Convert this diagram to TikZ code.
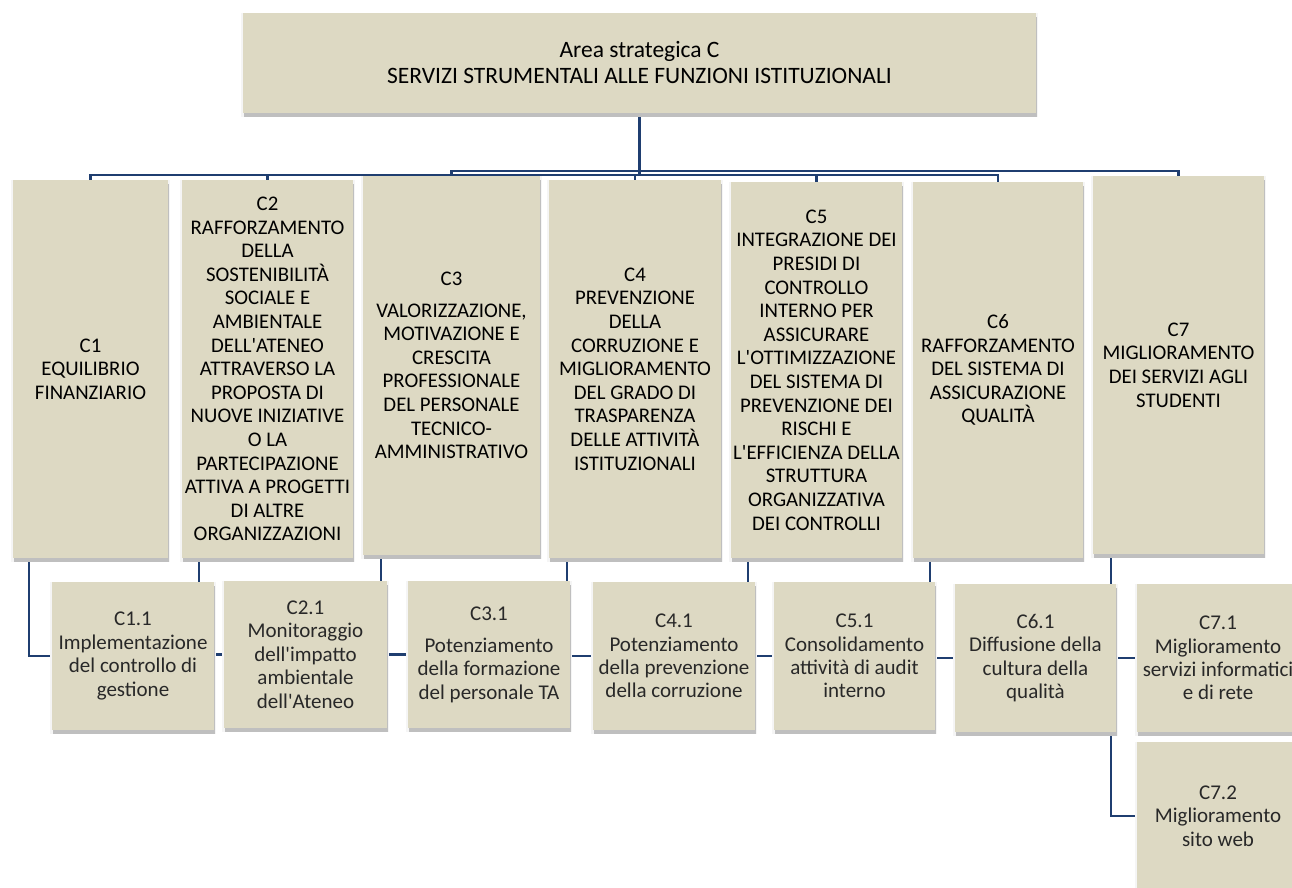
\documentclass[tikz,border=0pt]{standalone}
\usepackage{fontspec}
\setmainfont{Carlito}
\usetikzlibrary{shadows,backgrounds}
\definecolor{boxfill}{RGB}{221,217,195}
\definecolor{navy}{RGB}{31,62,112}
\definecolor{subtext}{RGB}{40,40,40}
\newcommand{\ap}{\textquotesingle}
\begin{document}
\begin{tikzpicture}[x=1pt,y=-1pt,
  boxbase/.style={fill=boxfill, inner sep=0pt, align=center, anchor=center,
    general shadow={fill=black!4, draw=black!4, line width=4pt, shadow yshift=-2pt},
    general shadow={fill=black!25, shadow yshift=-4pt, shadow xshift=0.5pt}},
  topbox/.style={boxbase, font=\fontsize{23.5}{26}\selectfont},
  lvone/.style={boxbase, font=\fontsize{20.8}{23.6}\selectfont},
  lvtwo/.style={boxbase, text=subtext, font=\fontsize{21}{23.4}\selectfont},
  conn/.style={draw=navy, line width=2.2pt}]
\useasboundingbox (0,0) rectangle (1292,888);

\node[topbox, minimum width=793pt, minimum height=100pt] (top) at (639.5,63)
  {Area strategica C\\SERVIZI STRUMENTALI ALLE FUNZIONI ISTITUZIONALI};

\node[lvone, minimum width=155pt, minimum height=378pt] (c1) at (90.5,369)
  {C1\\EQUILIBRIO\\FINANZIARIO};
\node[lvone, minimum width=171pt, minimum height=378pt] (c2) at (267.5,369)
  {C2\\RAFFORZAMENTO\\DELLA\\SOSTENIBILITÀ\\SOCIALE E\\AMBIENTALE\\DELL\ap ATENEO\\ATTRAVERSO LA\\PROPOSTA DI\\NUOVE INIZIATIVE\\O LA\\PARTECIPAZIONE\\ATTIVA A PROGETTI\\DI ALTRE\\ORGANIZZAZIONI};
\node[lvone, minimum width=177pt, minimum height=379pt] (c3) at (451.5,365.5)
  {C3\\[8pt]VALORIZZAZIONE,\\MOTIVAZIONE E\\CRESCITA\\PROFESSIONALE\\DEL PERSONALE\\TECNICO-\\AMMINISTRATIVO};
\node[lvone, minimum width=172pt, minimum height=378pt] (c4) at (635,369)
  {C4\\PREVENZIONE\\DELLA\\CORRUZIONE E\\MIGLIORAMENTO\\DEL GRADO DI\\TRASPARENZA\\DELLE ATTIVITÀ\\ISTITUZIONALI};
\node[lvone, minimum width=171pt, minimum height=376pt] (c5) at (816.5,370)
  {C5\\INTEGRAZIONE DEI\\PRESIDI DI\\CONTROLLO\\INTERNO PER\\ASSICURARE\\L\ap OTTIMIZZAZIONE\\DEL SISTEMA DI\\PREVENZIONE DEI\\RISCHI E\\L\ap EFFICIENZA DELLA\\STRUTTURA\\ORGANIZZATIVA\\DEI CONTROLLI};
\node[lvone, minimum width=170pt, minimum height=376pt] (c6) at (998,370)
  {C6\\RAFFORZAMENTO\\DEL SISTEMA DI\\ASSICURAZIONE\\QUALITÀ};
\node[lvone, minimum width=171pt, minimum height=378pt] (c7) at (1178.5,365)
  {C7\\MIGLIORAMENTO\\DEI SERVIZI AGLI\\STUDENTI};

\node[lvtwo, minimum width=162pt, minimum height=148pt] (c11) at (133,656)
  {C1.1\\Implementazione\\del controllo di\\gestione};
\node[lvtwo, minimum width=163pt, minimum height=147pt] (c21) at (305.5,654.5)
  {C2.1\\Monitoraggio\\dell\ap impatto\\ambientale\\dell\ap Ateneo};
\node[lvtwo, minimum width=162pt, minimum height=147pt] (c31) at (489,654.5)
  {C3.1\\[9pt]Potenziamento\\della formazione\\del personale TA};
\node[lvtwo, minimum width=162pt, minimum height=148pt] (c41) at (674,656)
  {C4.1\\Potenziamento\\della prevenzione\\della corruzione};
\node[lvtwo, minimum width=161pt, minimum height=148pt] (c51) at (854.5,656)
  {C5.1\\Consolidamento\\attività di audit\\interno};
\node[lvtwo, minimum width=161pt, minimum height=148pt] (c61) at (1035.5,658)
  {C6.1\\Diffusione della\\cultura della\\qualità};
\node[lvtwo, minimum width=162pt, minimum height=148pt] (c71) at (1218,658)
  {C7.1\\Miglioramento\\servizi informatici\\e di rete};
\node[lvtwo, minimum width=162pt, minimum height=148pt] (c72) at (1218,816)
  {C7.2\\Miglioramento\\sito web};

\coordinate (busL) at (639,175);
\coordinate (busU) at (639,171);

\begin{scope}[on background layer]
  \draw[conn] (top.south) |- (c1.north |- busL) -- (c1.north);
  \draw[conn] (top.south) |- (c2.north |- busL) -- (c2.north);
  \draw[conn] (top.south) |- (c3.north |- busU) -- (c3.north);
  \draw[conn] (top.south) |- (c4.north |- busL) -- (c4.north);
  \draw[conn] (top.south) |- (c5.north |- busL) -- (c5.north);
  \draw[conn] (top.south) |- (c6.north |- busL) -- (c6.north);
  \draw[conn] (top.south) |- (c7.north |- busU) -- (c7.north);
  \draw[conn] ([xshift=16pt]c1.south west) |- (c11.west);
  \draw[conn] ([xshift=17pt]c2.south west) |- (c21.west);
  \draw[conn] ([xshift=18pt]c3.south west) |- (c31.west);
  \draw[conn] ([xshift=18pt]c4.south west) |- (c41.west);
  \draw[conn] ([xshift=17pt]c5.south west) |- (c51.west);
  \draw[conn] ([xshift=17pt]c6.south west) |- (c61.west);
  \draw[conn] ([xshift=18pt]c7.south west) |- (c71.west);
  \draw[conn] ([xshift=18pt]c7.south west) |- (c72.west);
\end{scope}
\end{tikzpicture}
\end{document}
